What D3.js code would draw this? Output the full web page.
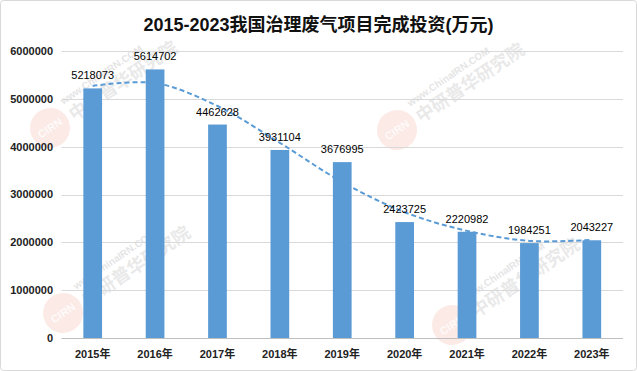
<!DOCTYPE html>
<html>
<head>
<meta charset="utf-8">
<script src="https://cdn.jsdelivr.net/npm/d3@7"></script>
<style>
    body { margin: 0; background: #fff; }
    svg { display: block; }
    text { font-family: "Liberation Sans", "Noto Sans CJK SC", sans-serif; }
</style>
</head>
<body>
<div id="chart"></div>
<script>
var years = ['2015年', '2016年', '2017年', '2018年', '2019年', '2020年', '2021年', '2022年', '2023年']
var investment = [5218073, 5614702, 4462628, 3931104, 3676995, 2423725, 2220982, 1984251, 2043227]
// dashed trend line at each year
var trend = [5270000, 5330000, 4850000, 4080000, 3260000, 2630000, 2240000, 2030000, 2050000]
var yTicks = [0, 1000000, 2000000, 3000000, 4000000, 5000000, 6000000]
var title = '2015-2023我国治理废气项目完成投资(万元)'

var width = 637, height = 371
var plot = { left: 61.5, right: 623, top: 51, bottom: 338 }
var blue = '#5b9bd5'

var svg = d3.select('#chart').append('svg')
    .attr('width', width)
    .attr('height', height)

svg.append('rect')
    .attr('x', 0.5).attr('y', 0.5)
    .attr('width', width - 1).attr('height', height - 1)
    .attr('rx', 3)
    .attr('fill', 'white')
    .attr('stroke', '#d9d9d9')

var x = d3.scaleBand()
    .domain(years)
    .range([plot.left, plot.right])
    .paddingInner(0.7)
    .paddingOuter(0.35)

var y = d3.scaleLinear()
    .domain([0, 6000000])
    .range([plot.bottom, plot.top])

// watermarks
var marks = [[50, 128], [397, 130], [63, 313], [452, 325]]
var wm = svg.append('g').attr('id', 'watermarks')
marks.forEach(function (m) {
    var g = wm.append('g').attr('transform', 'translate(' + m[0] + ',' + m[1] + ') rotate(-34)')
    g.append('circle').attr('r', 20).attr('fill', '#f2a08c').attr('opacity', 0.22)
    g.append('text').attr('text-anchor', 'middle').attr('dy', '0.35em')
        .attr('font-size', 11).attr('font-weight', 'bold').attr('fill', '#fff').attr('opacity', 0.8)
        .text('CIRN')
    g.append('text').attr('x', 24).attr('y', -12)
        .attr('font-size', 10).attr('font-weight', 'bold').attr('fill', '#d4d4d4').attr('opacity', 0.6)
        .text('www.ChinaIRN.COM')
    g.append('text').attr('x', 24).attr('y', 8)
        .attr('font-size', 18).attr('font-weight', 'bold').attr('fill', '#d0d0d0').attr('opacity', 0.45)
        .text('中研普华研究院')
})

// gridlines
svg.append('g')
    .selectAll('line')
    .data(yTicks)
    .join('line')
    .attr('x1', plot.left)
    .attr('x2', plot.right)
    .attr('y1', function (d) { return Math.round(y(d)) + 0.5 })
    .attr('y2', function (d) { return Math.round(y(d)) + 0.5 })
    .attr('stroke', function (d) { return d === 0 ? '#bfbfbf' : '#d9d9d9' })

// y labels
svg.append('g')
    .selectAll('text')
    .data(yTicks)
    .join('text')
    .attr('x', 53)
    .attr('y', function (d) { return y(d) })
    .attr('dy', '0.35em')
    .attr('text-anchor', 'end')
    .attr('font-size', 11)
    .attr('font-weight', 'bold')
    .attr('fill', '#222')
    .text(function (d) { return d })

// bars
svg.append('g')
    .selectAll('rect')
    .data(investment)
    .join('rect')
    .attr('x', function (d, i) { return x(years[i]) })
    .attr('y', function (d) { return y(d) })
    .attr('width', x.bandwidth())
    .attr('height', function (d) { return y(0) - y(d) })
    .attr('fill', blue)

// trend
var line = d3.line()
    .x(function (d, i) { return x(years[i]) + x.bandwidth() / 2 })
    .y(function (d) { return y(d) })
    .curve(d3.curveCatmullRom.alpha(0.5))

svg.append('path')
    .attr('d', line(trend))
    .attr('fill', 'none')
    .attr('stroke', blue)
    .attr('stroke-width', 2)
    .attr('stroke-dasharray', '5,3')

// value labels
svg.append('g')
    .selectAll('text')
    .data(investment)
    .join('text')
    .attr('x', function (d, i) { return x(years[i]) + x.bandwidth() / 2 })
    .attr('y', function (d) { return y(d) - 9 })
    .attr('text-anchor', 'middle')
    .attr('font-size', 11)
    .attr('fill', '#000')
    .text(function (d) { return d })

// x labels
svg.append('g')
    .selectAll('text')
    .data(years)
    .join('text')
    .attr('x', function (d) { return x(d) + x.bandwidth() / 2 })
    .attr('y', 358)
    .attr('text-anchor', 'middle')
    .attr('font-size', 11)
    .attr('font-weight', 'bold')
    .attr('fill', '#222')
    .text(function (d) { return d })

svg.append('text')
    .attr('x', width / 2)
    .attr('y', 31)
    .attr('text-anchor', 'middle')
    .attr('font-size', 18)
    .attr('font-weight', 'bold')
    .attr('fill', '#111')
    .text(title)
</script>
</body>
</html>
